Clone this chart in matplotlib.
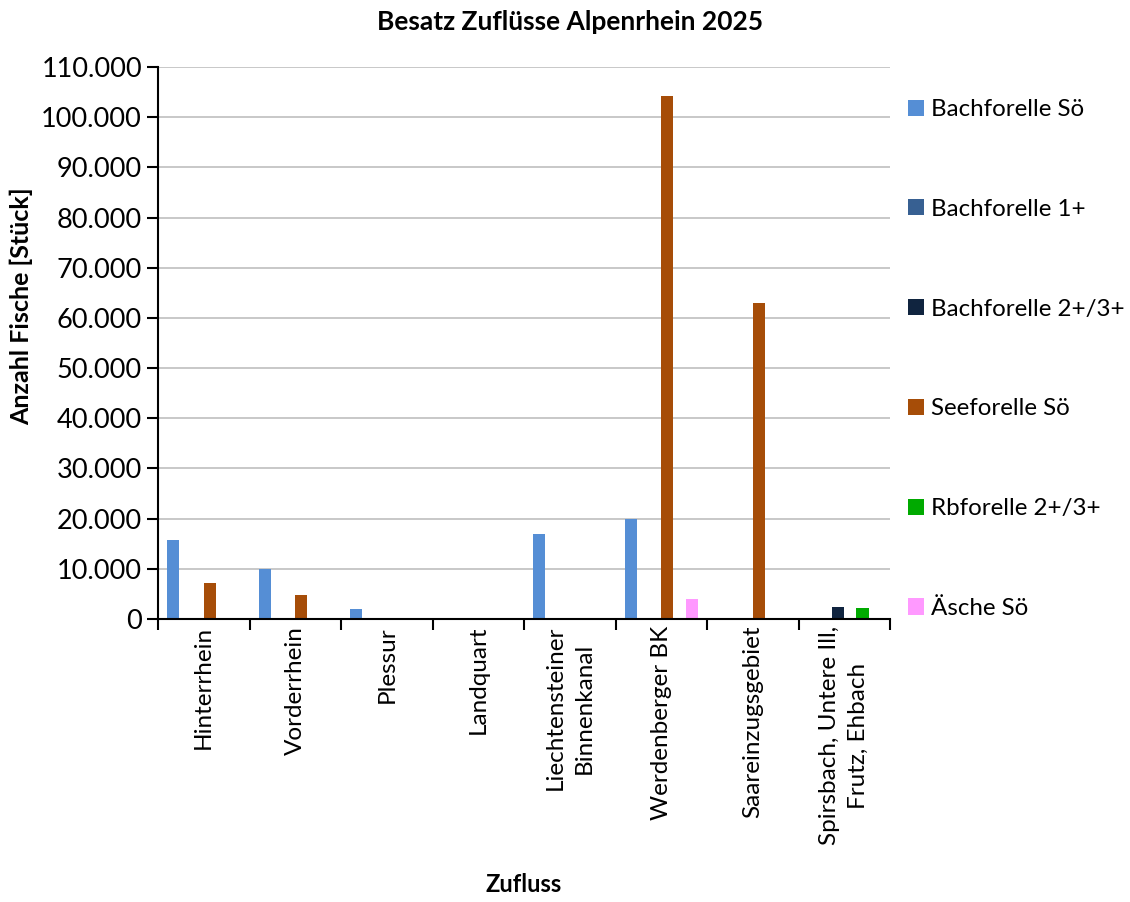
import numpy as np
import matplotlib
matplotlib.use("Agg")
import matplotlib.pyplot as plt
from matplotlib.ticker import FuncFormatter, FixedLocator

plt.rcParams['font.family'] = ['Lato', 'DejaVu Sans']

# categories (Zuflüsse)
categories = ["Hinterrhein", "Vorderrhein", "Plessur", "Landquart",
              "Liechtensteiner\nBinnenkanal", "Werdenberger BK",
              "Saareinzugsgebiet", "Spirsbach, Untere Ill,\nFrutz, Ehbach"]

# series values (Stück)
bachforelle_soe = [15800, 10000, 1900, 0, 17000, 20000, 0, 0]
bachforelle_1 = [0, 0, 0, 0, 0, 0, 0, 0]
bachforelle_23 = [0, 0, 0, 0, 0, 0, 0, 2400]
seeforelle_soe = [7100, 4700, 0, 0, 0, 104300, 63000, 0]
rbforelle_23 = [0, 0, 0, 0, 0, 0, 0, 2200]
aesche_soe = [0, 0, 0, 0, 0, 4000, 0, 0]

series_names = ["Bachforelle Sö", "Bachforelle 1+", "Bachforelle 2+/3+",
                "Seeforelle Sö", "Rbforelle 2+/3+", "Äsche Sö"]
series_values = [bachforelle_soe, bachforelle_1, bachforelle_23,
                 seeforelle_soe, rbforelle_23, aesche_soe]
colors = ["#558ED5", "#376092", "#10243F", "#A64D08", "#00AA00", "#FF99FF"]

fig = plt.figure(figsize=(11.3, 9.02), dpi=100)
ax = fig.add_axes([158 / 1130, 1 - 619 / 902, (890 - 158) / 1130, (619 - 67) / 902])

x = np.arange(len(categories))
w = 1 / 7.5
handles = []
for i, (name, vals, c) in enumerate(zip(series_names, series_values, colors)):
    b = ax.bar(x + (i - 2.5) * w, vals, width=w, color=c, label=name, zorder=3)
    handles.append(b)

ax.set_xlim(-0.5, len(categories) - 0.5)
ax.set_ylim(0, 110000)
ax.set_yticks(np.arange(0, 110001, 10000))
ax.yaxis.set_major_formatter(FuncFormatter(lambda v, p: f"{int(v):,}".replace(",", ".")))
ax.grid(axis='y', color="#BFBFBF", linewidth=1.2, zorder=0)

ax.set_xticks(x)
ax.set_xticklabels(categories, rotation=90, va='top', ha='center',
                   multialignment='center', fontsize=17.5, linespacing=1.45)
ax.tick_params(axis='x', length=0, pad=5)
ax.xaxis.set_minor_locator(FixedLocator(np.arange(-0.5, len(categories), 1)))
ax.tick_params(axis='x', which='minor', length=8, width=1.5, direction='out')
ax.tick_params(axis='y', length=8, width=1.5, direction='out', labelsize=19.5)

for s in ['top', 'right']:
    ax.spines[s].set_visible(False)
for s in ['left', 'bottom']:
    ax.spines[s].set_linewidth(1.5)
    ax.spines[s].set_zorder(4)

ax.set_ylabel("Anzahl Fische [Stück]", fontsize=18, fontweight='bold')
ax.yaxis.set_label_coords(-(158 - 33) / (890 - 158), (619 - 306) / (619 - 67))
ax.set_xlabel("Zufluss", fontsize=17, fontweight='bold')
ax.xaxis.set_label_coords(0.5, (619 - 885) / (619 - 67))
ax.xaxis.label.set_va('center')
fig.suptitle("Besatz Zuflüsse Alpenrhein 2025", fontsize=19, fontweight='bold',
             x=570 / 1130, y=1 - 22 / 902, va='center')

fig.legend(handles=handles, labels=series_names, loc='upper left',
           bbox_to_anchor=(896 / 1130, 1 - 87 / 902), frameon=False,
           fontsize=17.4, handlelength=0.65, handleheight=0.65, handletextpad=0.3,
           labelspacing=3.26, borderpad=0)

fig.savefig("out.png", dpi=100)
